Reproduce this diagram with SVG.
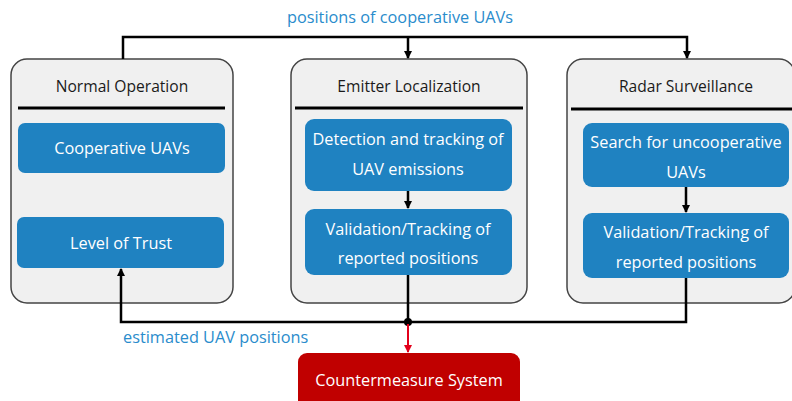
<svg xmlns="http://www.w3.org/2000/svg" width="792" height="401" viewBox="0 0 792 401">
<style>
.panel{fill:#f0f0f0;stroke:#444;stroke-width:1.5}
.hdr{stroke:#000;stroke-width:3}
.title{font-family:"Open Sans",sans-serif;font-size:15.6px;fill:#1a1a1a;text-anchor:middle}
.blue{fill:#1f82c1}
.red{fill:#c00000}
.wt{font-family:"Open Sans",sans-serif;font-size:16.3px;fill:#fff;text-anchor:middle}
.lbl{font-family:"Open Sans",sans-serif;font-size:16.3px;fill:#2a8ccc}
.conn{fill:none;stroke:#000;stroke-width:2.5}
</style>
<defs>
<marker id="ah" markerWidth="8" markerHeight="8" refX="7" refY="4" orient="auto" markerUnits="userSpaceOnUse">
<path d="M0,0 L8,4 L0,8 Z" fill="#000"/>
</marker>
<marker id="ahr" markerWidth="8" markerHeight="8" refX="7" refY="4" orient="auto" markerUnits="userSpaceOnUse">
<path d="M0,0 L8,4 L0,8 Z" fill="#e3001b"/>
</marker>
</defs>
<rect width="792" height="401" fill="#fff"/>

<g id="normal-operation">
<rect class="panel" x="11" y="59" width="222" height="244" rx="16"/>
<line class="hdr" x1="18" y1="108" x2="225" y2="108"/>
<text class="title" x="122" y="92">Normal Operation</text>
</g>
<g id="cooperative-uavs">
<rect class="blue" x="18" y="123" width="207" height="50" rx="7"/>
<text class="wt" x="122" y="154">Cooperative UAVs</text>
</g>
<g id="level-of-trust">
<rect class="blue" x="17" y="217" width="207" height="51" rx="7"/>
<text class="wt" x="121" y="249">Level of Trust</text>
</g>

<g id="emitter-localization">
<rect class="panel" x="291" y="59" width="236" height="244" rx="16"/>
<line class="hdr" x1="295" y1="108" x2="523" y2="108"/>
<text class="title" x="409" y="92">Emitter Localization</text>
</g>
<g id="detection-tracking">
<rect class="blue" x="305" y="119" width="207" height="72" rx="9"/>
<text class="wt" x="408" y="145">Detection and tracking of</text>
<text class="wt" x="408" y="175">UAV emissions</text>
</g>
<g id="validation-middle">
<rect class="blue" x="305" y="209" width="207" height="66" rx="9"/>
<text class="wt" x="408" y="235">Validation/Tracking of</text>
<text class="wt" x="408" y="264">reported positions</text>
</g>

<g id="radar-surveillance">
<rect class="panel" x="567" y="59" width="228" height="244" rx="16"/>
<line class="hdr" x1="571" y1="109" x2="792" y2="109"/>
<text class="title" x="686" y="92">Radar Surveillance</text>
</g>
<g id="search-uncooperative">
<rect class="blue" x="583" y="123" width="206" height="64" rx="9"/>
<text class="wt" x="686" y="148">Search for uncooperative</text>
<text class="wt" x="686" y="178">UAVs</text>
</g>
<g id="validation-right">
<rect class="blue" x="583" y="213" width="206" height="65" rx="9"/>
<text class="wt" x="686" y="238">Validation/Tracking of</text>
<text class="wt" x="686" y="268">reported positions</text>
</g>

<g id="countermeasure-system">
<rect class="red" x="298" y="353" width="222" height="60" rx="9"/>
<text class="wt" x="409" y="386">Countermeasure System</text>
</g>

<g id="connectors">
<path class="conn" d="M123,59 V37 H687 V58" marker-end="url(#ah)"/>
<path class="conn" d="M408,37 V58" marker-end="url(#ah)"/>
<path class="conn" d="M408,191 V208" marker-end="url(#ah)"/>
<path class="conn" d="M686,187 V212" marker-end="url(#ah)"/>
<path class="conn" d="M408,275 V322"/>
<path class="conn" d="M686,278 V322 H121 V269" marker-end="url(#ah)"/>
<circle cx="408" cy="322" r="4" fill="#000"/>
<path d="M408,324 V352" fill="none" stroke="#e3001b" stroke-width="2" marker-end="url(#ahr)"/>
<text class="lbl" x="400" y="23" text-anchor="middle">positions of cooperative UAVs</text>
<text class="lbl" x="123" y="343">estimated UAV positions</text>
</g>
</svg>
